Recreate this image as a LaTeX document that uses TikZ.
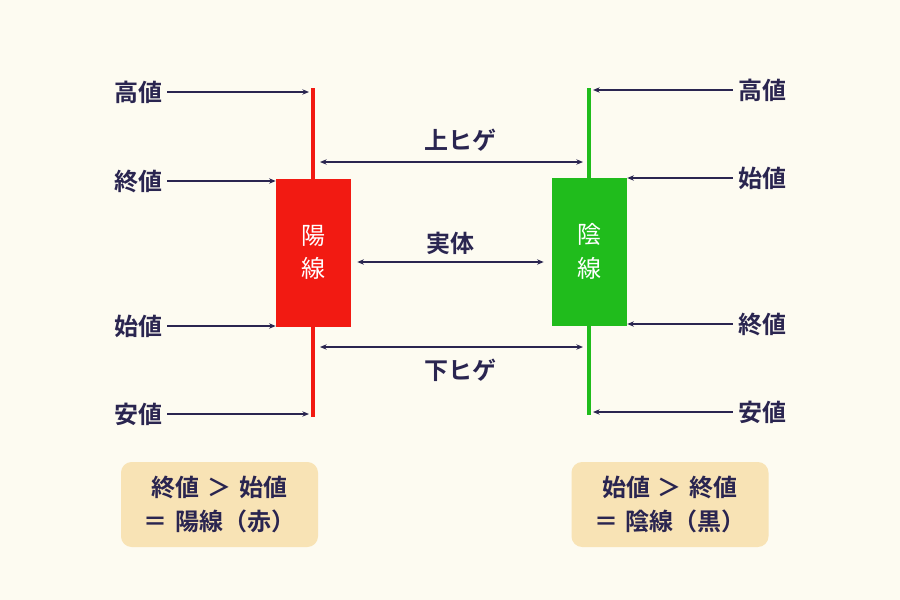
\documentclass[tikz,border=0pt]{standalone}
\usepackage{fontspec}
\setmainfont{Noto Sans CJK JP}[BoldFont={* Bold}]
\usetikzlibrary{arrows.meta}
\definecolor{bg}{HTML}{FDFBF1}
\definecolor{ink}{HTML}{2A2550}
\definecolor{rd}{HTML}{F21A12}
\definecolor{gr}{HTML}{20BC1C}
\definecolor{note}{HTML}{F8E3B5}
\begin{document}
\begin{tikzpicture}[x=0.75pt,y=-0.75pt,
 lab/.style={font=\bfseries\fontsize{18}{20}\selectfont,text=ink,inner sep=0},
 ar/.style={-{Stealth[length=5pt,width=4pt]},ink,line width=0.8pt},
 dar/.style={{Stealth[length=5pt,width=4pt]}-{Stealth[length=5pt,width=4pt]},ink,line width=0.8pt},
 body/.style={minimum width=56.25pt,minimum height=111pt,inner sep=0,text=white,font=\fontsize{18}{25}\selectfont,align=center},
 box/.style={fill=note,rounded corners=8pt,minimum width=147.75pt,minimum height=63.75pt,align=center,font=\bfseries\fontsize{18}{26}\selectfont,text=ink}]
\fill[bg] (0,0) rectangle (900,600);
% left candle
\draw[rd,line width=3pt] (313,88) -- (313,417);
\node[body,fill=rd] (yb) at (313.5,252.5) {陽\\線};
% right candle
\draw[gr,line width=3pt] (589,88) -- (589,415);
\node[body,fill=gr] (gb) at (589.5,251.5) {陰\\線};
% left labels
\node[lab] (l1) at (138,92) {高値};
\node[lab] (l2) at (138,181) {終値};
\node[lab] (l3) at (138,326) {始値};
\node[lab] (l4) at (138,414) {安値};
\coordinate (lt1) at (309,92); \coordinate (lt4) at (309,414);
\draw[ar] (l1.east)++(5,0) -- (lt1);
\draw[ar] (l2.east)++(5,0) -- (yb.west|-l2);
\draw[ar] (l3.east)++(5,0) -- (yb.west|-l3);
\draw[ar] (l4.east)++(5,0) -- (lt4);
% right labels
\node[lab] (r1) at (762,90) {高値};
\node[lab] (r2) at (762,178) {始値};
\node[lab] (r3) at (762,324) {終値};
\node[lab] (r4) at (762,412) {安値};
\coordinate (rt1) at (593,90); \coordinate (rt4) at (593,412);
\draw[ar] (r1.west)++(-5,0) -- (rt1);
\draw[ar] (r2.west)++(-5,0) -- (gb.east|-r2);
\draw[ar] (r3.west)++(-5,0) -- (gb.east|-r3);
\draw[ar] (r4.west)++(-5,0) -- (rt4);
% middle
\node[lab] (m1) at (460,140) {上ヒゲ};
\node[lab] (m2) at (450,243) {実体};
\node[lab] (m3) at (460,370) {下ヒゲ};
\coordinate (a1) at (320,162); \coordinate (b1) at (583,162);
\coordinate (a3) at (320,347); \coordinate (b3) at (583,347);
\draw[dar] (a1) -- (b1);
\draw[dar] (yb.east|-0,262) ++(6,0) -- ([xshift=-6pt]gb.west|-0,262);
\draw[dar] (a3) -- (b3);
% notes
\node[box] (n1) at (219.5,504.5) {終値\,\,＞\,\,始値\\＝\,\,陽線（赤）};
\node[box] (n2) at (670,504.5) {始値\,\,＞\,\,終値\\＝\,\,陰線（黒）};
\end{tikzpicture}
\end{document}
